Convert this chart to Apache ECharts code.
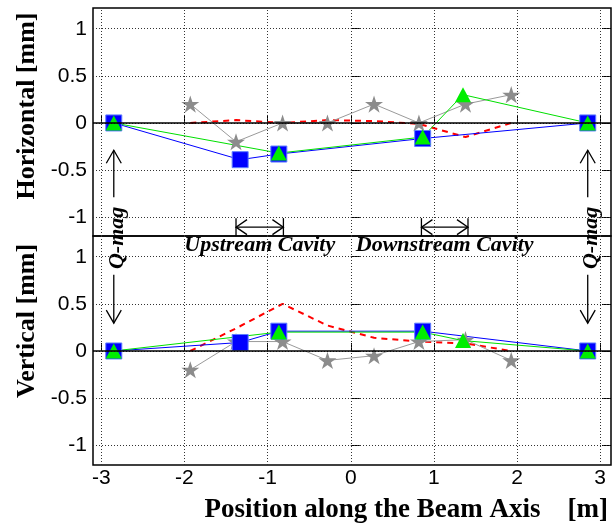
<!DOCTYPE html>
<html><head><meta charset="utf-8">
<script src="https://cdn.jsdelivr.net/npm/echarts@6/dist/echarts.min.js"></script>
<style>html,body{margin:0;padding:0;background:#fff}#c{width:615px;height:528px}</style>
</head><body><div id="c"></div>
<script>
// ---- data ----
const xTicks = [-3, -2, -1, 0, 1, 2, 3];
const yTicks = [-1, -0.5, 0, 0.5, 1];
const qmagX = [-2.85, 2.85];
const blueX = [-2.85, -1.33, -0.865, 0.865, 2.85];
const greenX = [-2.85, -0.865, 0.865, 1.35, 2.85];
const starX = [-1.93, -1.38, -0.82, -0.28, 0.28, 0.82, 1.38, 1.93];
const hBlue = [0, -0.39, -0.33, -0.165, 0];
const hGreen = [0, -0.32, -0.15, 0.3, 0];
const hStar = [0.2, -0.2, 0, 0, 0.2, 0, 0.2, 0.3];
const hRed = [0, 0.03, 0, 0.03, 0.02, -0.01, -0.15, 0];
const vBlue = [0, 0.09, 0.21, 0.21, 0];
const vGreen = [0, 0.2, 0.2, 0.11, 0];
const vStar = [-0.2, 0.1, 0.1, -0.1, -0.05, 0.1, 0.12, -0.1];
const vRed = [0, 0.24, 0.5, 0.27, 0.14, 0.1, 0.08, 0];
const cavities = [[-1.38, -0.81], [0.85, 1.41]];
const cavityLabels = ['Upstream Cavity', 'Downstream Cavity'];
const qmagLabel = 'Q-mag';
const yTitles = ['Horizontal [mm]', 'Vertical [mm]'];
const xTitle = 'Position along the Beam Axis    [m]';

// annotation anchors (data coordinates)
const arrowTop = [-0.79, -0.29];   // tail, tip (top panel)
const arrowBot = [0.81, 0.295];    // tail, tip (bottom panel)
const cavityY = -1.106;
const cavityLabelY = 1.12;
const qmagY = -1.22;

const zip = (xs, ys) => xs.map((x, i) => [x, ys[i]]);

const SANS = '"Liberation Sans", Arial, sans-serif';
const SERIF = '"Liberation Serif", "Times New Roman", serif';
const STAR = 'path://M50,0 L61.2,34.5 L97.6,34.5 L68.2,55.9 L79.4,90.5 L50,69.1 L20.6,90.5 L31.8,55.9 L2.4,34.5 L38.8,34.5 Z';

function xAxis(i) {
  return {
    type: 'value', gridIndex: i, min: -3.1, max: 3.13,
    axisLine: { show: false },
    axisTick: { show: true, inside: true, length: 8, customValues: xTicks, lineStyle: { color: '#000', width: 1 } },
    axisLabel: { show: i === 1, customValues: xTicks, color: '#000', fontSize: 21, fontFamily: SANS, margin: 3 },
    splitLine: { show: false }
  };
}
function yAxis(i, mn, mx, right) {
  return {
    type: 'value', gridIndex: i, min: mn, max: mx, position: right ? 'right' : 'left',
    axisLine: { show: false },
    axisTick: { show: true, inside: true, length: 9, customValues: yTicks, lineStyle: { color: '#000', width: 1 } },
    axisLabel: { show: !right, customValues: yTicks, color: '#000', fontSize: 21, fontFamily: SANS, margin: 6 },
    splitLine: { show: false }
  };
}

function lineSeries(xi, yi, data, opts) {
  return Object.assign({
    type: 'line', xAxisIndex: xi, yAxisIndex: yi, data: data, animation: false, silent: true
  }, opts);
}

const dotted = { color: '#333', width: 1, type: [1, 2] };
function gridLines() {
  const d = [];
  xTicks.forEach(v => d.push({ xAxis: v, lineStyle: dotted }));
  yTicks.forEach(v => d.push({ yAxis: v, lineStyle: dotted }));
  d.push({ yAxis: 0, lineStyle: { color: '#000', width: 1.5, type: 'solid' } });
  return d;
}

function panelSeries(i, red, star, blue, green) {
  const yi = i * 2;
  return [
    lineSeries(i, yi, [], {
      markLine: { silent: true, symbol: 'none', label: { show: false }, animation: false,
        data: gridLines() }
    }),
    lineSeries(i, yi, zip(starX, red), { symbol: 'none', lineStyle: { color: '#ff0000', width: 2, type: [6, 5] } }),
    lineSeries(i, yi, zip(starX, star), { symbol: STAR, symbolSize: 18, symbolKeepAspect: true,
      itemStyle: { color: '#8c8c8c' }, lineStyle: { color: '#9a9a9a', width: 1 } }),
    lineSeries(i, yi, zip(blueX, blue), { symbol: 'rect', symbolSize: 16,
      itemStyle: { color: '#0000ff', borderColor: '#5f7dff', borderWidth: 1 }, lineStyle: { color: '#0000ff', width: 1 } }),
    lineSeries(i, yi, zip(greenX, green), { symbol: 'triangle', symbolSize: [16, 15],
      itemStyle: { color: '#00ee00' }, lineStyle: { color: '#00e000', width: 1 } })
  ];
}

function arrowShape(p0, p1, L, W) {
  const dx = p1[0] - p0[0], dy = p1[1] - p0[1];
  const len = Math.hypot(dx, dy), ux = dx / len, uy = dy / len;
  return [[p1[0] - ux * L - uy * W, p1[1] - uy * L + ux * W], [p1[0], p1[1]],
          [p1[0] - ux * L + uy * W, p1[1] - uy * L - ux * W]];
}
const black = { stroke: '#000', fill: null, lineWidth: 1.3 };

const topAnno = {
  type: 'custom', xAxisIndex: 0, yAxisIndex: 0, clip: false, silent: true, animation: false,
  data: [0, 1, 2, 3],
  renderItem: function (params, api) {
    const k = params.dataIndex;
    if (k < 2) {
      const x = qmagX[k];
      const p0 = api.coord([x, arrowTop[0]]), p1 = api.coord([x, arrowTop[1]]);
      const pt = api.coord([x, qmagY]);
      return { type: 'group', children: [
        { type: 'line', shape: { x1: p0[0], y1: p0[1], x2: p1[0], y2: p1[1] }, style: black },
        { type: 'polyline', shape: { points: arrowShape(p0, p1, 13, 7.5) }, style: black },
        { type: 'text', x: pt[0] + 4, y: pt[1], rotation: Math.PI / 2,
          style: { text: qmagLabel, x: 0, y: 0, align: 'center', verticalAlign: 'middle',
            font: 'italic bold 22px ' + SERIF, fill: '#000' } }
      ] };
    }
    const c = cavities[k - 2];
    const a = api.coord([c[0], cavityY]), b = api.coord([c[1], cavityY]);
    const h = 9;
    return { type: 'group', children: [
      { type: 'line', shape: { x1: a[0], y1: a[1], x2: b[0], y2: b[1] }, style: black },
      { type: 'line', shape: { x1: a[0], y1: a[1] - h, x2: a[0], y2: a[1] + h }, style: black },
      { type: 'line', shape: { x1: b[0], y1: b[1] - h, x2: b[0], y2: b[1] + h }, style: black },
      { type: 'polyline', shape: { points: arrowShape(b, a, 11, 7.5) }, style: black },
      { type: 'polyline', shape: { points: arrowShape(a, b, 11, 7.5) }, style: black }
    ] };
  }
};

const botAnno = {
  type: 'custom', xAxisIndex: 1, yAxisIndex: 2, clip: false, silent: true, animation: false,
  data: [0, 1, 2, 3],
  renderItem: function (params, api) {
    const k = params.dataIndex;
    if (k < 2) {
      const x = qmagX[k];
      const p0 = api.coord([x, arrowBot[0]]), p1 = api.coord([x, arrowBot[1]]);
      return { type: 'group', children: [
        { type: 'line', shape: { x1: p0[0], y1: p0[1], x2: p1[0], y2: p1[1] }, style: black },
        { type: 'polyline', shape: { points: arrowShape(p0, p1, 13, 7.5) }, style: black }
      ] };
    }
    const c = cavities[k - 2];
    const p = api.coord([(c[0] + c[1]) / 2, cavityLabelY]);
    return { type: 'text', x: p[0], y: p[1],
      style: { text: cavityLabels[k - 2], align: 'center', verticalAlign: 'middle',
        font: 'italic bold 22px ' + SERIF, fill: '#000' } };
  }
};

const chart = echarts.init(document.getElementById('c'), null, { renderer: 'canvas' });
chart.setOption({
  animation: false,
  backgroundColor: '#fff',
  grid: [
    { left: 93, top: 8, width: 518, height: 228, show: true, borderColor: '#000', borderWidth: 1.5, backgroundColor: 'transparent' },
    { left: 93, top: 236, width: 518, height: 229, show: true, borderColor: '#000', borderWidth: 1.5, backgroundColor: 'transparent' }
  ],
  xAxis: [xAxis(0), xAxis(1)],
  yAxis: [yAxis(0, -1.2, 1.22, false), yAxis(0, -1.2, 1.22, true), yAxis(1, -1.21, 1.22, false), yAxis(1, -1.21, 1.22, true)],
  series: [].concat(panelSeries(0, hRed, hStar, hBlue, hGreen), panelSeries(1, vRed, vStar, vBlue, vGreen), [topAnno, botAnno]),
  graphic: [
    { type: 'text', x: 27, y: 106, rotation: Math.PI / 2,
      style: { text: yTitles[0], x: 0, y: 0, align: 'center', verticalAlign: 'middle', font: 'bold 26px ' + SERIF, fill: '#000' } },
    { type: 'text', x: 27, y: 321, rotation: Math.PI / 2,
      style: { text: yTitles[1], x: 0, y: 0, align: 'center', verticalAlign: 'middle', font: 'bold 26px ' + SERIF, fill: '#000' } },
    { type: 'text', x: 608, y: 510,
      style: { text: xTitle, x: 0, y: 0, align: 'right', verticalAlign: 'middle', font: 'bold 27px ' + SERIF, fill: '#000' } }
  ]
});
</script></body></html>
